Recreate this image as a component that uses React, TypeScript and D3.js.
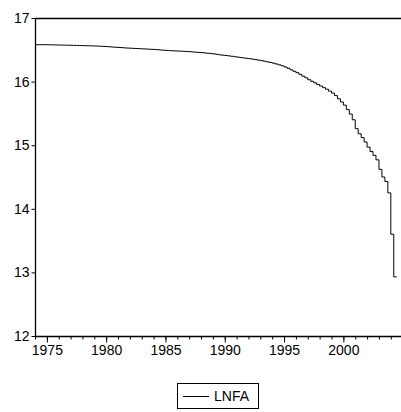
import { useEffect, useRef } from "react";
import * as d3 from "d3";

// LNFA, quarterly, starting 1974Q1
const startYear = 1974;
const lnfa: number[] = [
  16.58, 16.58, 16.58, 16.58,
  16.58, 16.578, 16.577, 16.576,
  16.575, 16.574, 16.573, 16.572,
  16.57, 16.569, 16.568, 16.567,
  16.565, 16.564, 16.563, 16.561,
  16.56, 16.558, 16.555, 16.553,
  16.55, 16.546, 16.543, 16.54,
  16.536, 16.533, 16.53, 16.527,
  16.525, 16.522, 16.52, 16.517,
  16.515, 16.512, 16.51, 16.507,
  16.505, 16.501, 16.497, 16.494,
  16.49, 16.487, 16.485, 16.482,
  16.48, 16.478, 16.475, 16.472,
  16.47, 16.466, 16.462, 16.458,
  16.455, 16.45, 16.445, 16.44,
  16.435, 16.428, 16.421, 16.415,
  16.41, 16.404, 16.398, 16.391,
  16.385, 16.378, 16.372, 16.366,
  16.36, 16.353, 16.346, 16.338,
  16.33, 16.32, 16.31, 16.3,
  16.29, 16.277, 16.263, 16.248,
  16.23, 16.21, 16.185, 16.162,
  16.14, 16.115, 16.085, 16.06,
  16.03, 16.005, 15.98, 15.955,
  15.93, 15.905, 15.88, 15.85,
  15.82, 15.78, 15.73, 15.68,
  15.63, 15.56, 15.49, 15.4,
  15.26, 15.18, 15.12, 15.05,
  14.97, 14.9, 14.84, 14.77,
  14.62, 14.5, 14.43, 14.25,
  13.6, 12.93,
];
const yTicks = [12, 13, 14, 15, 16, 17];
const xTickYears = [1975, 1980, 1985, 1990, 1995, 2000];
const seriesName = "LNFA";

const App = () => {
  const svgRef = useRef(null);

  useEffect(() => {
    const w = 401;
    const h = 412;
    const left = 35;
    const top = 18;
    const bottom = 336;
    const pxPerYear = 11.86;

    const svg = d3.select(svgRef.current).attr("width", w).attr("height", h);
    svg.selectAll("*").remove();

    const x = d3
      .scaleLinear()
      .domain([startYear, startYear + (w - left) / pxPerYear])
      .range([left, w]);
    const y = d3.scaleLinear().domain([12, 17]).range([bottom, top]);

    const font = "'Liberation Sans', Arial, sans-serif";

    // top border
    svg
      .append("line")
      .attr("x1", left)
      .attr("x2", w)
      .attr("y1", top + 0.5)
      .attr("y2", top + 0.5)
      .attr("stroke", "#000")
      .attr("stroke-width", 1.3);

    // y axis
    const yAxis = d3
      .axisLeft(y)
      .tickValues(yTicks)
      .tickSize(4)
      .tickPadding(2)
      .tickFormat(d3.format("d"));
    const gy = svg
      .append("g")
      .attr("transform", `translate(${left + 0.5},0)`)
      .call(yAxis);
    gy.select(".domain").attr("stroke-width", 1.3).attr("d", `M0,${top}V${bottom}`);
    gy.selectAll("text")
      .style("font-family", font)
      .style("font-size", "14px")
      .attr("fill", "#000");

    // x axis minor ticks (every year)
    const years = d3.range(startYear, 2005 + 1);
    const minorAxis = d3
      .axisBottom(x)
      .tickValues(years)
      .tickSize(3)
      .tickFormat(() => "");
    const gm = svg
      .append("g")
      .attr("transform", `translate(0,${bottom + 0.5})`)
      .call(minorAxis);
    gm.select(".domain").remove();

    const xAxis = d3
      .axisBottom(x)
      .tickValues(xTickYears)
      .tickSize(6)
      .tickPadding(3)
      .tickFormat(d3.format("d"));
    const gx = svg
      .append("g")
      .attr("transform", `translate(0,${bottom + 0.5})`)
      .call(xAxis);
    gx.select(".domain").attr("stroke-width", 1.3).attr("d", `M${left},0H${w}`);
    gx.selectAll("text")
      .style("font-family", font)
      .style("font-size", "14px")
      .attr("fill", "#000");

    // series line (step)
    const pts: [number, number][] = lnfa.map((v, i) => [startYear + i / 4, v]);
    pts.push([startYear + lnfa.length / 4, lnfa[lnfa.length - 1]]);
    const line = d3
      .line<[number, number]>()
      .x((d) => x(d[0]))
      .y((d) => y(d[1]))
      .curve(d3.curveStepAfter);
    svg
      .append("path")
      .datum(pts)
      .attr("d", line)
      .attr("fill", "none")
      .attr("stroke", "#000")
      .attr("stroke-width", 1);

    // legend
    const lg = svg.append("g").attr("transform", "translate(177,383)");
    lg.append("rect")
      .attr("x", 0.5)
      .attr("y", 0.5)
      .attr("width", 81)
      .attr("height", 25)
      .attr("fill", "#fff")
      .attr("stroke", "#000")
      .attr("stroke-width", 1);
    lg.append("line")
      .attr("x1", 6)
      .attr("x2", 32)
      .attr("y1", 13.5)
      .attr("y2", 13.5)
      .attr("stroke", "#000");
    lg.append("text")
      .attr("x", 37)
      .attr("y", 18)
      .style("font-family", font)
      .style("font-size", "14px")
      .text(seriesName);

    return () => {
      svg.selectAll("*").remove();
    };
  }, []);

  return (
    <div style={{ position: "absolute", left: 0, top: 0 }}>
      <svg ref={svgRef} style={{ display: "block" }} />
    </div>
  );
};

export default App;
